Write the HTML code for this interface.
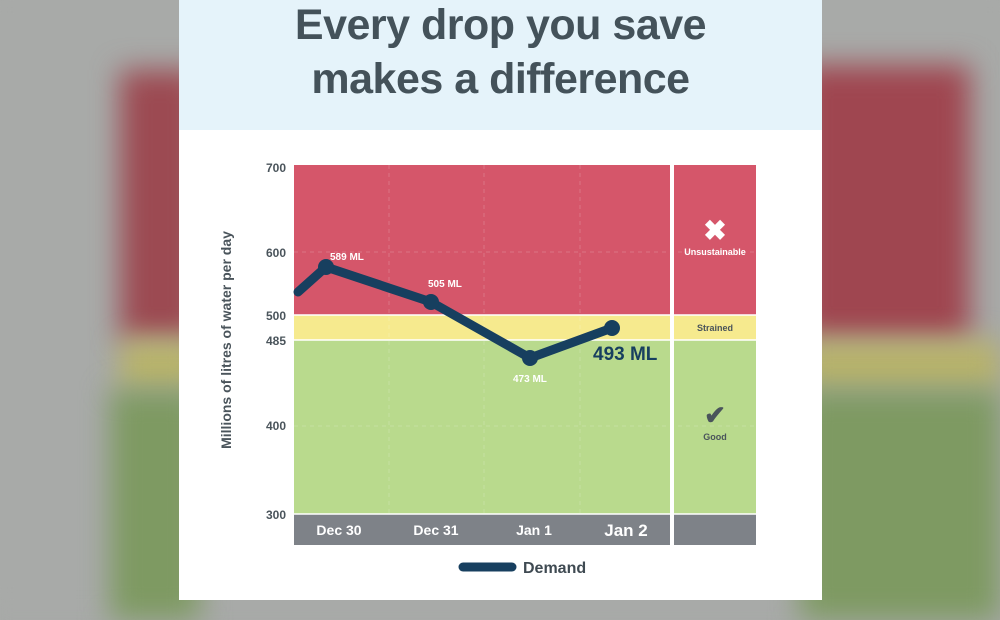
<!DOCTYPE html>
<html><head><style>
body{margin:0;width:1000px;height:600px;overflow:hidden;position:relative;font-family:"Liberation Sans",sans-serif;background:#a7a9a7}
.bg{position:absolute;filter:blur(14px)}
</style></head><body>
<div class="bg" style="left:-20px;top:-20px;width:1040px;height:640px;background:#a8aaa8"></div>
<div class="bg" style="left:120px;top:70px;width:80px;height:270px;background:#9c4a52"></div>
<div class="bg" style="left:120px;top:340px;width:80px;height:50px;background:#b9b46a"></div>
<div class="bg" style="left:110px;top:390px;width:90px;height:230px;background:#7e9a62"></div>
<div class="bg" style="left:800px;top:65px;width:170px;height:275px;background:#9f4650"></div>
<div class="bg" style="left:800px;top:340px;width:200px;height:50px;background:#b8b36a"></div>
<div class="bg" style="left:800px;top:390px;width:200px;height:230px;background:#7e9a62"></div>
<div style="position:absolute;left:179px;top:0;width:643px;height:600px;background:#fff"></div>
<div style="position:absolute;left:179px;top:0;width:643px;height:130px;background:#e5f3fa"></div>
<div style="position:absolute;left:179px;top:-2px;width:643px;text-align:center;color:#44525a;font-weight:bold;font-size:43px;line-height:54px;letter-spacing:-0.5px">Every drop you save<br>makes a difference</div>
<svg style="position:absolute;left:0;top:0" width="1000" height="600">
<g font-family="Liberation Sans,sans-serif" font-weight="bold">
<rect x="294" y="165" width="376" height="150" fill="#d5566a"/>
<rect x="294" y="315" width="376" height="25" fill="#f6ea8e"/>
<rect x="294" y="340" width="376" height="174" fill="#b9da8d"/>
<rect x="294" y="514" width="376" height="31" fill="#7e8288"/>
<rect x="674" y="165" width="82" height="150" fill="#d5566a"/>
<rect x="674" y="315" width="82" height="25" fill="#f6ea8e"/>
<rect x="674" y="340" width="82" height="174" fill="#b9da8d"/>
<rect x="674" y="514" width="82" height="31" fill="#7e8288"/>
<line x1="294" y1="315" x2="756" y2="315" stroke="#fff" stroke-width="1.5"/>
<line x1="294" y1="340" x2="756" y2="340" stroke="#fff" stroke-width="1.5"/>
<line x1="294" y1="514" x2="756" y2="514" stroke="#fff" stroke-width="1.5"/>
<g stroke="#fff" stroke-opacity="0.18" stroke-dasharray="4 4">
<line x1="294" y1="252" x2="756" y2="252"/><line x1="294" y1="426" x2="756" y2="426"/>
<line x1="389" y1="165" x2="389" y2="514"/><line x1="484" y1="165" x2="484" y2="514"/><line x1="580" y1="165" x2="580" y2="514"/>
</g>
<g fill="#4a545b" font-size="12" text-anchor="end">
<text x="286" y="172">700</text><text x="286" y="257">600</text><text x="286" y="320">500</text><text x="286" y="345">485</text><text x="286" y="430">400</text><text x="286" y="519">300</text>
</g>
<text transform="translate(231,340) rotate(-90)" text-anchor="middle" fill="#4a545b" font-size="14">Millions of litres of water per day</text>
<polyline points="298,292 326,267 431,302 530,358 612,328" fill="none" stroke="#173f5f" stroke-width="9" stroke-linejoin="round" stroke-linecap="round"/>
<g fill="#173f5f"><circle cx="326" cy="267" r="8"/><circle cx="431" cy="302" r="8"/><circle cx="530" cy="358" r="8"/><circle cx="612" cy="328" r="8"/></g>
<g fill="#fff" font-size="10"><text x="330" y="260">589 ML</text><text x="428" y="287">505 ML</text><text x="513" y="382">473 ML</text></g>
<text x="593" y="360" fill="#173f5f" font-size="19">493 ML</text>
<g fill="#fff" font-size="14" text-anchor="middle"><text x="339" y="535">Dec 30</text><text x="436" y="535">Dec 31</text><text x="534" y="535">Jan 1</text><text x="626" y="536" font-size="17">Jan 2</text></g>
<text x="715" y="240" fill="#fff" font-size="28" text-anchor="middle">✖</text>
<text x="715" y="255" fill="#fff" font-size="9" text-anchor="middle">Unsustainable</text>
<text x="715" y="331" fill="#4a545b" font-size="9" text-anchor="middle">Strained</text>
<text x="715" y="424" fill="#4a545b" font-size="26" text-anchor="middle">✔</text>
<text x="715" y="440" fill="#4a545b" font-size="9" text-anchor="middle">Good</text>
<line x1="463" y1="567" x2="512" y2="567" stroke="#173f5f" stroke-width="9" stroke-linecap="round"/>
<text x="523" y="573" fill="#3f4a52" font-size="16">Demand</text>
</g></svg>
</body></html>
